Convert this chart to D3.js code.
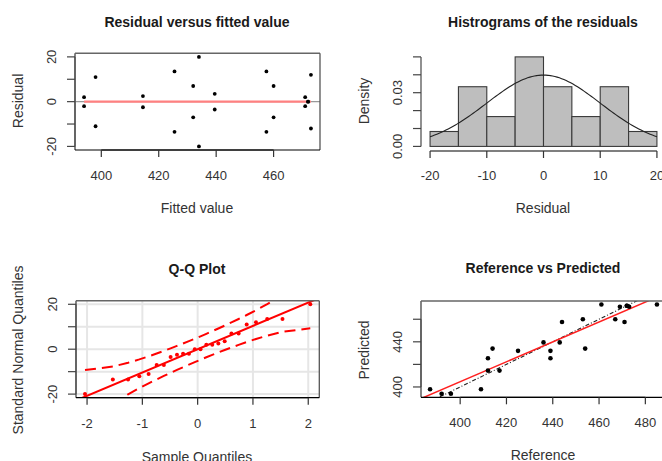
<!DOCTYPE html>
<html>
<head>
<meta charset="utf-8">
<script src="https://cdn.jsdelivr.net/npm/d3@7"></script>
<style>
  html, body { margin: 0; padding: 0; background: #fff; }
  svg { display: block; }
  text { font-family: "Liberation Sans", Arial, sans-serif; fill: #1a1a1a; }
</style>
</head>
<body>
<svg id="chart" width="662" height="461"></svg>
<script>
// ---------------- data ----------------
const fitted    = [394,394,398,398,414.5,414.5,425.5,425.5,432,432,434,434,439.5,439.5,457.5,457.5,460,460,471,471,472,472,473,473];
const residual  = [2,-2,-11,11,-2.5,2.5,13.5,-13.5,7,-7,20,-20,3.5,-3.5,13.5,-13.5,-7,7,2,-2,0,0,12,-12];
const reference = [396,392,387,409,412,417,439,412,439,425,454,414,443,436,471,444,453,467,473,469,472,472,485,461];

const binEdges  = [-20,-15,-10,-5,0,5,10,15,20];
const binCounts = [1,4,2,6,4,2,4,1];

const theoQuantiles = [-2.037,-1.534,-1.258,-1.055,-0.887,-0.741,-0.611,-0.489,-0.374,-0.264,-0.157,-0.052,
                        0.052,0.157,0.264,0.374,0.489,0.611,0.741,0.887,1.055,1.258,1.534,2.037];

const p1XTicks = [400,420,440,460];
const p1YTicks = [-20,-10,0,10,20];
const p1YLabels = [-20,0,20];
const histXTicks = [-20,-10,0,10,20];
const histYTicks = [0,0.01,0.02,0.03,0.04,0.05];
const histYLabels = [0,0.03];
const qqXTicks = [-2,-1,0,1,2];
const qqYTicks = [-20,-10,0,10,20];
const qqYLabels = [-20,0,20];
const p4XTicks = [400,420,440,460,480];
const p4YTicks = [400,420,440,460];
const p4YLabels = [400,440];

const titles = ["Residual versus fitted value","Histrograms of the residuals","Q-Q Plot","Reference vs Predicted"];

// ---------------- helpers ----------------
const svg = d3.select("#chart");
const n = residual.length;
const fmtInt = t => String(t);
const fmt2 = t => t.toFixed(2);
function ext(arr){ const [a,b]=d3.extent(arr); const d=(b-a)*0.04; return [a-d,b+d]; }

function title(x,y,t){
  svg.append("text").attr("x",x).attr("y",y).attr("dy","0.35em").attr("text-anchor","middle")
    .style("font-size","14px").style("font-weight","bold").text(t);
}
function xlab(x,y,t){
  svg.append("text").attr("x",x).attr("y",y).attr("dy","0.35em").attr("text-anchor","middle")
    .style("font-size","14px").style("fill","#333").text(t);
}
function ylab(x,y,t){
  svg.append("text").attr("transform",`translate(${x},${y}) rotate(-90)`).attr("dy","0.35em")
    .attr("text-anchor","middle").style("font-size","14px").style("fill","#333").text(t);
}
function bottomAxis(scale, ticks, y, fmt, labelOffset, color){
  const g = svg.append("g");
  g.append("line").attr("x1",scale(ticks[0])).attr("x2",scale(ticks[ticks.length-1]))
    .attr("y1",y).attr("y2",y).attr("stroke",color||"#000").attr("stroke-width",1.2);
  ticks.forEach(t=>{
    g.append("line").attr("x1",scale(t)).attr("x2",scale(t)).attr("y1",y).attr("y2",y+7)
      .attr("stroke","#333").attr("stroke-width",1.2);
    g.append("text").attr("x",scale(t)).attr("y",y+labelOffset).attr("dy","0.35em")
      .attr("text-anchor","middle").style("font-size","13px").style("fill","#333").text(fmt(t));
  });
}
function leftAxis(scale, ticks, labels, x, fmt, color){
  const g = svg.append("g");
  g.append("line").attr("x1",x).attr("x2",x).attr("y1",scale(ticks[0])).attr("y2",scale(ticks[ticks.length-1]))
    .attr("stroke",color||"#555").attr("stroke-width",1.3);
  ticks.forEach(t=>{
    g.append("line").attr("x1",x-8).attr("x2",x).attr("y1",scale(t)).attr("y2",scale(t))
      .attr("stroke","#444").attr("stroke-width",1.2);
  });
  labels.forEach(t=>{
    g.append("text").attr("transform",`translate(${x-24},${scale(t)}) rotate(-90)`).attr("dy","0.35em")
      .attr("text-anchor","middle").style("font-size","13px").style("fill","#333").text(fmt(t));
  });
}
function box(x0,x1,y0,y1){
  const g = svg.append("g");
  g.append("line").attr("x1",x0).attr("x2",x1).attr("y1",y0).attr("y2",y0).attr("stroke","#666").attr("stroke-width",1.6);
  g.append("line").attr("x1",x0).attr("x2",x0).attr("y1",y0).attr("y2",y1).attr("stroke","#666").attr("stroke-width",1.6);
  g.append("line").attr("x1",x1).attr("x2",x1).attr("y1",y0).attr("y2",y1).attr("stroke","#555").attr("stroke-width",1.3);
  g.append("line").attr("x1",x0).attr("x2",x1).attr("y1",y1).attr("y2",y1).attr("stroke","#000").attr("stroke-width",1.2);
}
function clip(id,x0,x1,y0,y1){
  svg.append("clipPath").attr("id",id).append("rect").attr("x",x0).attr("y",y0).attr("width",x1-x0).attr("height",y1-y0);
}

// ---------------- panel 1: residual vs fitted ----------------
{
  const L=75,R=320,T=53.3,B=150;
  const x = d3.scaleLinear().domain(ext(fitted)).range([L,R]);
  const y = d3.scaleLinear().domain(ext(residual)).range([B,T]);
  title(197,21.7,titles[0]);
  svg.append("line").attr("x1",L).attr("x2",R).attr("y1",y(0)).attr("y2",y(0)).attr("stroke","#999").attr("stroke-width",1.2);
  svg.append("line").attr("x1",x(d3.min(fitted))).attr("x2",x(d3.max(fitted))).attr("y1",y(0)).attr("y2",y(0))
    .attr("stroke","#ff8080").attr("stroke-width",2.2);
  svg.append("g").selectAll("circle").data(fitted).join("circle")
    .attr("cx",(d)=>x(d)).attr("cy",(d,i)=>y(residual[i])).attr("r",1.9).attr("fill","#000");
  box(L,R,T,B);
  bottomAxis(x,p1XTicks,B,fmtInt,25);
  leftAxis(y,p1YTicks,p1YLabels,L,fmtInt);
  xlab(197,208,"Fitted value");
  ylab(18,101,"Residual");
}

// ---------------- panel 2: histogram ----------------
{
  const L=421,R=666,T=53.3,B=150;
  const x = d3.scaleLinear().domain([binEdges[0]-1.6,binEdges[binEdges.length-1]+1.6]).range([L,R]);
  const dens = binCounts.map((c,i)=>c/(n*(binEdges[i+1]-binEdges[i])));
  const y = d3.scaleLinear().domain([-0.002,0.052]).range([B,T]);
  title(543,21.7,titles[1]);
  svg.append("g").selectAll("rect").data(dens).join("rect")
    .attr("x",(d,i)=>x(binEdges[i])).attr("width",(d,i)=>x(binEdges[i+1])-x(binEdges[i]))
    .attr("y",d=>y(d)).attr("height",d=>y(0)-y(d))
    .attr("fill","#bebebe").attr("stroke","#3a3a3a").attr("stroke-width",1.1);
  const mu = d3.mean(residual), sd = d3.deviation(residual);
  const xs = d3.range(binEdges[0], binEdges[binEdges.length-1]+0.001, 0.4);
  const curve = xs.map(v=>[v, Math.exp(-0.5*((v-mu)/sd)**2)/(sd*Math.sqrt(2*Math.PI))]);
  svg.append("path").attr("d",d3.line().x(d=>x(d[0])).y(d=>y(d[1]))(curve))
    .attr("fill","none").attr("stroke","#222").attr("stroke-width",1.1);
  bottomAxis(x,histXTicks,151,fmtInt,24);
  leftAxis(y,histYTicks,histYLabels,L,fmt2);
  xlab(543,208,"Residual");
  ylab(364,101,"Density");
}

// ---------------- panel 3: Q-Q plot ----------------
{
  const L=76,R=319.3,T=300.7,B=397.7;
  const sorted = residual.slice().sort(d3.ascending);
  const x = d3.scaleLinear().domain(ext(theoQuantiles)).range([L,R]);
  const y = d3.scaleLinear().domain(ext(sorted)).range([B,T]);
  title(197,269.3,titles[2]);
  const g = svg.append("g");
  qqXTicks.forEach(t=>g.append("line").attr("x1",x(t)).attr("x2",x(t)).attr("y1",T).attr("y2",B).attr("stroke","#e6e6e6").attr("stroke-width",2));
  qqYTicks.forEach(t=>g.append("line").attr("x1",L).attr("x2",R).attr("y1",y(t)).attr("y2",y(t)).attr("stroke","#e6e6e6").attr("stroke-width",2));
  // quartile line
  const q1 = d3.quantile(sorted,0.25), q3 = d3.quantile(sorted,0.75);
  const slope = (q3-q1)/(2*0.6744898), icpt = q1 + slope*0.6744898;
  clip("qqclip",L,R,T,B);
  const cg = svg.append("g").attr("clip-path","url(#qqclip)");
  const xd = x.domain();
  cg.append("line").attr("x1",x(xd[0])).attr("x2",x(xd[1])).attr("y1",y(icpt+slope*xd[0])).attr("y2",y(icpt+slope*xd[1]))
    .attr("stroke","#ff0000").attr("stroke-width",2);
  const env = theoQuantiles.map((z,i)=>{
    const P=(i+1-0.5)/n, dz=Math.exp(-z*z/2)/Math.sqrt(2*Math.PI);
    const se = (slope/dz)*Math.sqrt(P*(1-P)/n);
    const fit = icpt+slope*z;
    return {z, up: fit+1.96*se, lo: fit-1.96*se};
  });
  const envLine = k=>d3.line().x(d=>x(d.z)).y(d=>y(d[k]))(env);
  ["up","lo"].forEach(k=>cg.append("path").attr("d",envLine(k)).attr("fill","none").attr("stroke","#ff0000")
    .attr("stroke-width",2).attr("stroke-dasharray","11,6"));
  cg.selectAll("circle").data(sorted).join("circle")
    .attr("cx",(d,i)=>x(theoQuantiles[i])).attr("cy",d=>y(d)).attr("r",2).attr("fill","#ff0000");
  box(L,R,T,B);
  bottomAxis(x,qqXTicks,B,fmtInt,25.6);
  leftAxis(y,qqYTicks,qqYLabels,L,fmtInt);
  xlab(197,456.7,"Sample Quantiles");
  ylab(18,350,"Standard Normal Quantiles");
}

// ---------------- panel 4: reference vs predicted ----------------
{
  const L=421,R=666,T=301,B=397.3;
  const x = d3.scaleLinear().domain(ext(reference)).range([L,R]);
  const y = d3.scaleLinear().domain(ext(fitted)).range([B,T]);
  title(543,268.3,titles[3]);
  clip("p4clip",L,R,T,B);
  const cg = svg.append("g").attr("clip-path","url(#p4clip)");
  const xd = x.domain();
  // identity line
  cg.append("line").attr("x1",x(xd[0])).attr("x2",x(xd[1])).attr("y1",y(xd[0])).attr("y2",y(xd[1]))
    .attr("stroke","#222").attr("stroke-width",1.1).attr("stroke-dasharray","1,2,4,2");
  // regression of predicted on reference
  const mx = d3.mean(reference), my = d3.mean(fitted);
  const b = d3.sum(reference.map((v,i)=>(v-mx)*(fitted[i]-my)))/d3.sum(reference.map(v=>(v-mx)**2));
  const a = my - b*mx;
  cg.append("line").attr("x1",x(xd[0])).attr("x2",x(xd[1])).attr("y1",y(a+b*xd[0])).attr("y2",y(a+b*xd[1]))
    .attr("stroke","#ff2020").attr("stroke-width",1.5);
  svg.append("g").selectAll("circle").data(reference).join("circle")
    .attr("cx",d=>x(d)).attr("cy",(d,i)=>y(fitted[i])).attr("r",2.3).attr("fill","#000");
  box(L,R,T,B);
  bottomAxis(x,p4XTicks,B,fmtInt,25.4);
  leftAxis(y,p4YTicks,p4YLabels,L,fmtInt);
  xlab(543,455,"Reference");
  ylab(364,350,"Predicted");
}
</script>
</body>
</html>
